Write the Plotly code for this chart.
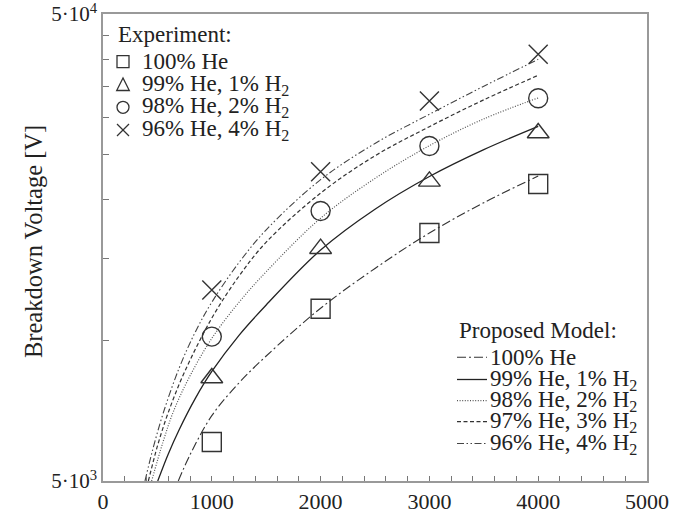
import plotly.graph_objects as go

# ---------------- data ----------------
exp_x = [1000, 2000, 3000, 4000]
exp_he100 = [6060, 11690, 16980, 21630]
exp_he99 = [8310, 15720, 21910, 27810]
exp_he98 = [10190, 18930, 26090, 33000]
exp_he96 = [12820, 22980, 32560, 41000]

model_he100_x = [692, 800, 1000, 1250, 1500, 2000, 2500, 3000, 3500, 4000]
model_he100_v = [5000, 5690, 6900, 8110, 9260, 11720, 14260, 16980, 19720, 22490]
model_he99_x = [503, 600, 700, 850, 1000, 1250, 1500, 2000, 2500, 3000, 3500, 4000]
model_he99_v = [5000, 5715, 6440, 7525, 8580, 10255, 11910, 15615, 19100, 22440, 25620, 28740]
model_he98_x = [447, 550, 650, 800, 1000, 1250, 1500, 2000, 2500, 3000, 3500, 4000]
model_he98_v = [5000, 6045, 7070, 8400, 10100, 12070, 14030, 18270, 22230, 26120, 29810, 33060]
model_he97_x = [417, 500, 600, 750, 1000, 1250, 1500, 2000, 2500, 3000, 3500, 4000]
model_he97_v = [5000, 5937, 7010, 8565, 11160, 13730, 16230, 20670, 24850, 28690, 32750, 36960]
model_he96_x = [386, 450, 550, 700, 850, 1000, 1250, 1500, 2000, 2500, 3000, 3500, 4000]
model_he96_v = [5000, 5752, 6947, 8727, 10442, 12070, 14680, 17250, 22090, 26410, 30500, 35020, 39980]

exp_labels = ["100% He", "99% He, 1% H<sub>2</sub>", "98% He, 2% H<sub>2</sub>", "96% He, 4% H<sub>2</sub>"]
model_labels = ["100% He", "99% He, 1% H<sub>2</sub>", "98% He, 2% H<sub>2</sub>",
                "97% He, 3% H<sub>2</sub>", "96% He, 4% H<sub>2</sub>"]

x_tickvals = [0, 1000, 2000, 3000, 4000, 5000]
y_tickvals = [5000, 50000]
y_ticktext = ["5·10<sup>3</sup>", "5·10<sup>4</sup>"]
y_minorvals = [10000, 15000, 20000, 25000, 30000, 35000, 40000, 45000]

# ---------------- styling ----------------
FONT = "Liberation Serif"
INK = "#222222"
MK = "#333333"
W, H = 677, 510
L, R, T, B = 103, 647, 14, 481

def px(xpix):
    return (xpix - L) / (R - L)

def py(ypix):
    return (B - ypix) / (B - T)

model_styles = [
    dict(dash="9px,3px,2px,3px", color="#333333", width=1.1),
    dict(dash="solid", color="#222222", width=1.3),
    dict(dash="1px,1.6px", color="#555555", width=1.2),
    dict(dash="4px,2.5px", color="#333333", width=1.2),
    dict(dash="7px,2.5px,1.5px,2.5px,1.5px,2.5px", color="#444444", width=1.1),
]

fig = go.Figure()

models = [(model_he100_x, model_he100_v), (model_he99_x, model_he99_v), (model_he98_x, model_he98_v),
          (model_he97_x, model_he97_v), (model_he96_x, model_he96_v)]
for (mx, mv), st, name in zip(models, model_styles, model_labels):
    fig.add_trace(go.Scatter(x=mx, y=mv, mode="lines", name=name,
                             line=dict(shape="spline", smoothing=1.0, **st),
                             showlegend=False))

exp_series = [exp_he100, exp_he99, exp_he98, exp_he96]
exp_symbols = ["square-open", "triangle-up-open", "circle-open", "x-thin-open"]
exp_sizes = [19, 19, 19, 19]
for ys, sym, sz, name in zip(exp_series, exp_symbols, exp_sizes, exp_labels):
    fig.add_trace(go.Scatter(x=exp_x, y=ys, mode="markers", name=name, showlegend=False,
                             marker=dict(symbol=sym, size=sz, color=MK,
                                         line=dict(color=MK, width=1.4))))

shapes = []
annotations = []

# ---- Experiment legend (top left) ----
annotations.append(dict(x=px(116), y=py(34), xref="paper", yref="paper", text="Experiment:",
                        showarrow=False, xanchor="left", yanchor="middle",
                        font=dict(family=FONT, size=23, color=INK)))
rows = [61.7, 85, 107.3, 130]
sym_cx = 123
s = 6
lc = dict(color=MK, width=1.3)
for i, (yy, lab) in enumerate(zip(rows, exp_labels)):
    if i == 0:
        shapes.append(dict(type="rect", xref="paper", yref="paper",
                           x0=px(sym_cx - s), x1=px(sym_cx + s), y0=py(yy - s), y1=py(yy + s), line=lc))
    elif i == 1:
        path = "M {} {} L {} {} L {} {} Z".format(px(sym_cx), py(yy - 7), px(sym_cx - 6.3), py(yy + 5.5),
                                                 px(sym_cx + 6.3), py(yy + 5.5))
        shapes.append(dict(type="path", xref="paper", yref="paper", path=path, line=lc))
    elif i == 2:
        shapes.append(dict(type="circle", xref="paper", yref="paper",
                           x0=px(sym_cx - s), x1=px(sym_cx + s), y0=py(yy - s), y1=py(yy + s), line=lc))
    else:
        shapes.append(dict(type="line", xref="paper", yref="paper",
                           x0=px(sym_cx - s), x1=px(sym_cx + s), y0=py(yy - s), y1=py(yy + s), line=lc))
        shapes.append(dict(type="line", xref="paper", yref="paper",
                           x0=px(sym_cx - s), x1=px(sym_cx + s), y0=py(yy + s), y1=py(yy - s), line=lc))
    annotations.append(dict(x=px(140), y=py(yy), xref="paper", yref="paper", text=lab,
                            showarrow=False, xanchor="left", yanchor="middle",
                            font=dict(family=FONT, size=23, color=INK)))

# ---- Model legend (bottom right) ----
annotations.append(dict(x=px(457), y=py(330), xref="paper", yref="paper", text="Proposed Model:",
                        showarrow=False, xanchor="left", yanchor="middle",
                        font=dict(family=FONT, size=23, color=INK)))
mrows = [357.3, 379.5, 400.7, 421.7, 443.5]
for yy, lab, st in zip(mrows, model_labels, model_styles):
    shapes.append(dict(type="line", xref="paper", yref="paper", x0=px(457), x1=px(487),
                       y0=py(yy), y1=py(yy), line=dict(color=st["color"], width=st["width"], dash=st["dash"])))
    annotations.append(dict(x=px(487.5), y=py(yy), xref="paper", yref="paper", text=lab,
                            showarrow=False, xanchor="left", yanchor="middle",
                            font=dict(family=FONT, size=23, color=INK)))

# ---- y-axis title ----
annotations.append(dict(x=px(33), y=py(242), xref="paper", yref="paper", text="Breakdown Voltage [V]",
                        textangle=-90, showarrow=False, xanchor="center", yanchor="middle",
                        font=dict(family=FONT, size=24.5, color=INK)))

fig.update_layout(
    width=W, height=H,
    margin=dict(l=L, r=W - R, t=T, b=H - B, pad=0, autoexpand=False),
    paper_bgcolor="white", plot_bgcolor="white",
    shapes=shapes, annotations=annotations,
    showlegend=False,
    font=dict(family=FONT, color=INK),
)
fig.update_xaxes(range=[0, 5000], tickvals=x_tickvals, ticktext=[str(v) for v in x_tickvals],
                 ticks="inside", ticklen=5, tickcolor="#777777", tickwidth=1, automargin=False,
                 ticklabeloverflow="allow",
                 minor=dict(dtick=200, ticks="inside", ticklen=5, tickcolor="#777777", tickwidth=1),
                 showline=True, linecolor="#999999", linewidth=1.5, mirror=True,
                 showgrid=False, zeroline=False,
                 tickfont=dict(family=FONT, size=22, color=INK))
fig.update_yaxes(type="log", range=[3.69897, 4.69897], tickvals=y_tickvals, ticktext=y_ticktext,
                 ticks="inside", ticklen=6, tickcolor="#777777", tickwidth=1, automargin=False,
                 ticklabeloverflow="allow",
                 minor=dict(tickmode="array", tickvals=y_minorvals, ticks="inside", ticklen=6,
                            tickcolor="#777777", tickwidth=1),
                 showline=True, linecolor="#999999", linewidth=1.5, mirror=True,
                 showgrid=False, zeroline=False,
                 tickfont=dict(family=FONT, size=21, color=INK))

fig.write_html("out.html", config={"displayModeBar": False},
               post_script="document.body.style.margin='0px';document.body.style.overflow='hidden';")
